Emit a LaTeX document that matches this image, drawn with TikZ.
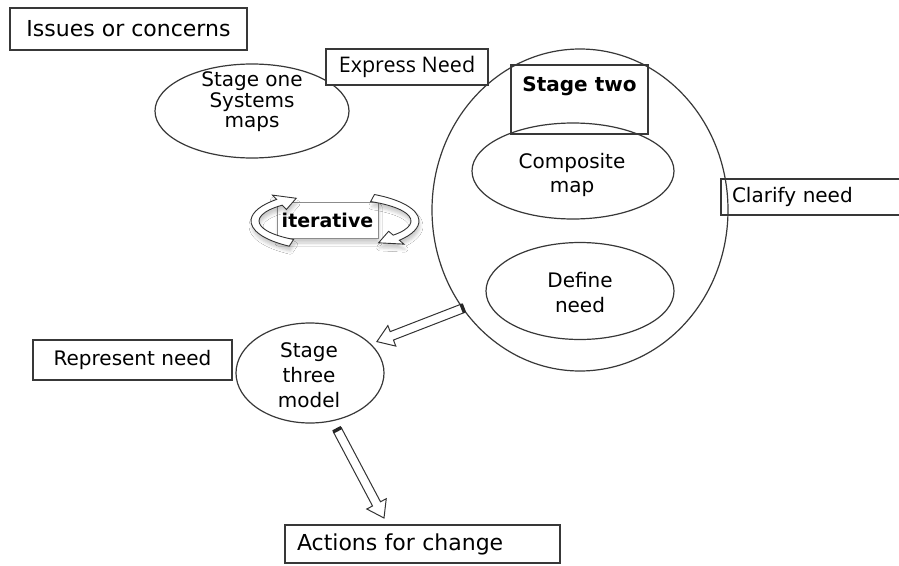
\documentclass[tikz,border=0pt]{standalone}
\usepackage{fontspec}
\setmainfont{DejaVu Sans}
\newfontfamily\expressfont{Open Sans}
\usetikzlibrary{shapes.geometric,calc,shadows.blur}

\tikzset{
  ink/.style={draw=black!78, line width=1.2pt},
  labelbox/.style={ink, rectangle, inner sep=0pt, outer sep=0pt,
    font=\fontsize{20}{24}\selectfont},
  oval/.style={ink, ellipse, inner sep=0pt, outer sep=0pt},
  ovaltext/.style={align=center, inner sep=0pt, font=\fontsize{20}{24}\selectfont},
  blockarrow/.style={draw=black!80, line width=1pt, fill=white},
  band/.style={draw=black!80, line width=0.9pt, fill=white},
  softshadow/.style={blur shadow={shadow xshift=1pt, shadow yshift=-5pt,
    shadow opacity=20, shadow blur radius=3pt}},
}

% hollow block arrow from tail #1 to tip #2, dark band across the tail end
\newcommand{\hollowarrow}[2]{%
  \coordinate (#1neck) at ($(#2)!16pt!(#1)$);
  \path[blockarrow] ($(#1)!4.5pt!90:(#2)$) -- ($(#1neck)!4.5pt!90:(#2)$)
    -- ($(#1neck)!11pt!90:(#2)$) -- (#2) -- ($(#1neck)!11pt!-90:(#2)$)
    -- ($(#1neck)!4.5pt!-90:(#2)$) -- ($(#1)!4.5pt!-90:(#2)$) -- cycle;
  \draw[line width=3.5pt, black!85] ($(#1)!4.6pt!90:(#2)$) -- ($(#1)!4.6pt!-90:(#2)$);}

\begin{document}
\begin{tikzpicture}[x=1pt,y=-1pt]
\path[use as bounding box, fill=white] (0,0) rectangle (899,565);
\clip (0,0) rectangle (899,565);

% stage two: large circle holding its title box and two ovals
\node[oval, minimum width=296pt, minimum height=322pt] (big) at (580,210) {};
\node[labelbox, minimum width=137pt, text height=26pt, text depth=43pt,
  font=\bfseries\fontsize{20}{24}\selectfont] (twobox) at (579.5,99.5) {Stage two};
\node[oval, minimum width=202pt, minimum height=96pt] (comp) at (573,171) {};
\node[ovaltext] (comptext) at (572,175) {Composite\\map};
\node[oval, minimum width=188pt, minimum height=97pt] (define) at (580,291) {};
\node[ovaltext, font=\fontsize{20}{25}\selectfont] (definetext) at (580,293) {Define\\need};

% stage one and stage three ovals
\node[oval, minimum width=194pt, minimum height=94pt] (one) at (252,111) {};
\node[ovaltext, font=\fontsize{20}{20.5}\selectfont] (onetext) at (252,102) {Stage one\\Systems\\maps};
\node[oval, minimum width=148pt, minimum height=100pt] (three) at (310,373) {};
\node[ovaltext, font=\fontsize{20}{25}\selectfont] (threetext) at (309,375) {Stage\\three\\model};

% labels
\node[labelbox, minimum width=237pt, minimum height=42pt,
  font=\fontsize{22}{26}\selectfont] (issues) at (128.5,29) {Issues or concerns};
\node[labelbox, fill=white, minimum width=162pt, minimum height=36pt,
  font=\expressfont\fontsize{21.5}{24}\selectfont] (express) at (407,67) {Express Need};
\node[labelbox, minimum width=190pt, minimum height=36pt, inner xsep=11pt,
  text width=168pt, align=left] (clarify) at (816,197) {Clarify need};
\node[labelbox, minimum width=199pt, minimum height=40pt] (represent) at (132.5,360) {Represent need};
\node[labelbox, minimum width=275pt, minimum height=38pt, inner xsep=12pt,
  text width=251pt, align=left, font=\fontsize{22}{26}\selectfont] (actions) at (422.5,544) {Actions for change};

% flow arrows
\coordinate (a1tail) at (big.220);
\coordinate (a1tip) at ([shift={(6,-3)}]three.25);
\coordinate (a2tail) at ([shift={(5,9)}]three.295);
\coordinate (a2tip) at ([shift={(-38.5,-7)}]actions.north);
\hollowarrow{a1tail}{a1tip}
\hollowarrow{a2tail}{a2tip}

% iterative loop: label box wrapped by two curved arrows
\node[draw=black!45, line width=1pt, fill=white, rectangle, inner sep=0pt,
  minimum width=101pt, minimum height=36pt, softshadow,
  font=\bfseries\fontsize{19}{22}\selectfont] (iter) at (327.5,220) {iterative};
\coordinate (ringc) at (335,221);
\path[band, softshadow] ($(ringc)+(123:84 and 30)$)
    arc[start angle=123, end angle=226, x radius=84, y radius=30]
  -- ($(ringc)+(226:90 and 36)$) -- ($(ringc)+(241:80 and 26)$)
  -- ($(ringc)+(226:70 and 16)$) -- ($(ringc)+(226:76 and 22)$)
    arc[start angle=226, end angle=123, x radius=76, y radius=22] -- cycle;
\path[band, softshadow] ($(ringc)+(298:84 and 30)$)
    arc[start angle=298, end angle=400, x radius=84, y radius=30]
  -- ($(ringc)+(400:90 and 36)$) -- ($(ringc)+(417:80 and 26)$)
  -- ($(ringc)+(400:70 and 16)$) -- ($(ringc)+(400:76 and 22)$)
    arc[start angle=400, end angle=298, x radius=76, y radius=22] -- cycle;
\end{tikzpicture}
\end{document}
